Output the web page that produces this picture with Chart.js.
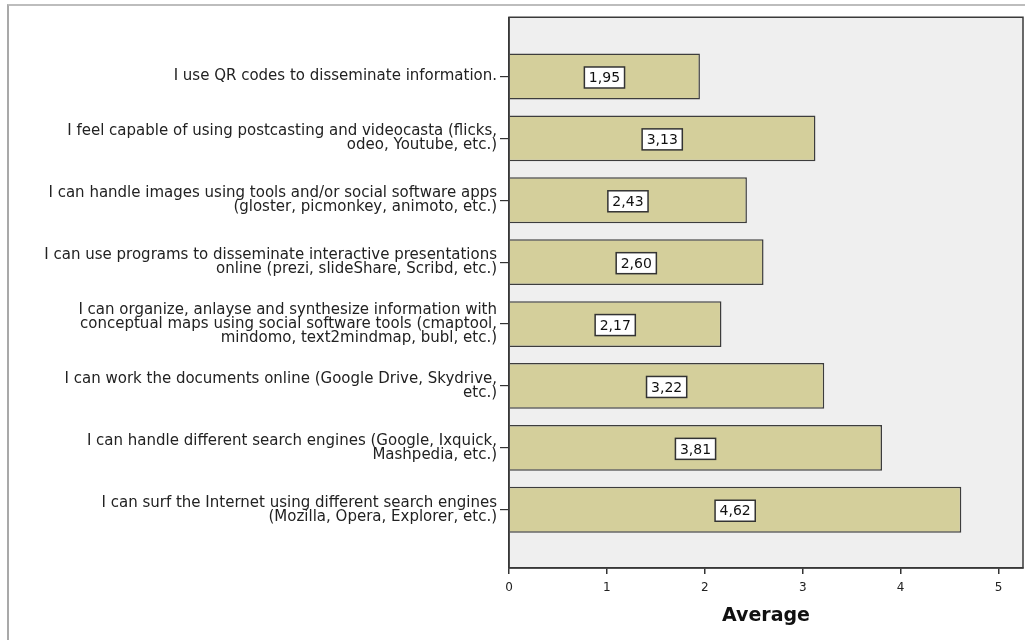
<!DOCTYPE html>
<html>
<head>
<meta charset="utf-8">
<script src="https://cdn.jsdelivr.net/npm/chart.js@4.4.1/dist/chart.umd.min.js"></script>
<style>
  html, body { margin: 0; padding: 0; background: #fff; }
  #wrap { position: relative; width: 1025px; height: 640px; overflow: hidden; }
  #frame { position: absolute; left: 7px; top: 4px; right: -10px; bottom: -10px;
           border-top: 2px solid #bdbdbd; border-left: 2px solid #a9a9a9; }
  #myChart { position: absolute; left: 0; top: 0; }
</style>
</head>
<body>
<div id="wrap">
  <div id="frame"></div>
  <canvas id="myChart" width="1025" height="640"></canvas>
</div>
<script>
// statements, top to bottom
var labels = [
    "I use QR codes to disseminate information.",
    ["I feel capable of using postcasting and videocasta (flicks,", "odeo, Youtube, etc.)"],
    ["I can handle images using tools and/or social software apps", "(gloster, picmonkey, animoto, etc.)"],
    ["I can use programs to disseminate interactive presentations", "online (prezi, slideShare, Scribd, etc.)"],
    ["I can organize, anlayse and synthesize information with", "conceptual maps using social software tools (cmaptool,", "mindomo, text2mindmap, bubl, etc.)"],
    ["I can work the documents online (Google Drive, Skydrive,", "etc.)"],
    ["I can handle different search engines (Google, Ixquick,", "Mashpedia, etc.)"],
    ["I can surf the Internet using different search engines", "(Mozilla, Opera, Explorer, etc.)"]
];
var averages = [1.95, 3.13, 2.43, 2.60, 2.17, 3.22, 3.81, 4.62];
var xTicks = [0, 1, 2, 3, 4, 5];

var font = "'DejaVu Sans', 'Liberation Sans', Arial, sans-serif";

var barData = averages.map(function (v, i) { return { x: v, y: i }; });

// grey plot background + frame
var plotFrame = {
    id: 'plotFrame',
    beforeDraw: function (chart) {
        var a = chart.chartArea, ctx = chart.ctx;
        ctx.save();
        ctx.fillStyle = '#efefef';
        ctx.fillRect(a.left, a.top, a.right - a.left, a.bottom - a.top);
        ctx.restore();
    },
    afterDraw: function (chart) {
        var a = chart.chartArea, ctx = chart.ctx;
        ctx.save();
        ctx.strokeStyle = '#3a3a3a';
        ctx.lineWidth = 1.5;
        ctx.strokeRect(a.left, a.top, a.right - a.left, a.bottom - a.top);
        ctx.restore();
    }
};

// value boxes in the middle of each bar
var valueBoxes = {
    id: 'valueBoxes',
    afterDatasetsDraw: function (chart) {
        var ctx = chart.ctx;
        var xs = chart.scales.x, ys = chart.scales.y;
        ctx.save();
        ctx.font = '14px ' + font;
        ctx.textAlign = 'center';
        ctx.textBaseline = 'middle';
        averages.forEach(function (v, i) {
            var txt = v.toFixed(2).replace('.', ',');
            var cx = xs.getPixelForValue(v / 2);
            var cy = ys.getPixelForValue(i) + 1;
            var w = ctx.measureText(txt).width + 9;
            var h = 21;
            ctx.fillStyle = '#ffffff';
            ctx.fillRect(cx - w / 2, cy - h / 2, w, h);
            ctx.strokeStyle = '#333333';
            ctx.lineWidth = 1.5;
            ctx.strokeRect(cx - w / 2, cy - h / 2, w, h);
            ctx.fillStyle = '#111111';
            ctx.fillText(txt, cx, cy + 1);
        });
        ctx.restore();
    }
};

var ctx1 = document.getElementById("myChart").getContext("2d");
var myChart = new Chart(ctx1, {
    type: 'bar',
    data: {
        datasets: [{
            label: 'Average',
            data: barData,
            backgroundColor: '#d4cf9b',
            borderColor: '#3d3d3d',
            borderWidth: 1.5,
            categoryPercentage: 1,
            barPercentage: 0.74
        }]
    },
    options: {
        indexAxis: 'y',
        responsive: false,
        animation: false,
        devicePixelRatio: 1,
        layout: { padding: { top: 15, right: 2, left: 0, bottom: 0 } },
        plugins: {
            legend: { display: false },
            tooltip: { enabled: false }
        },
        scales: {
            x: {
                type: 'linear',
                position: 'bottom',
                min: 0,
                max: 5.25,
                afterBuildTicks: function (s) {
                    s.ticks = xTicks.map(function (t) { return { value: t }; });
                },
                afterFit: function (s) { s.height = 72; },
                grid: { display: true, drawOnChartArea: false, drawTicks: true, tickLength: 6, color: '#333', lineWidth: 1.5 },
                border: { display: true, color: '#333', width: 1.5 },
                ticks: { color: '#222', padding: 7, font: { family: font, size: 12 } },
                title: {
                    display: true,
                    text: 'Average',
                    color: '#111',
                    font: { family: font, size: 19, weight: 'bold' },
                    padding: { top: 4, bottom: 13 }
                }
            },
            y: {
                type: 'linear',
                position: 'left',
                reverse: true,
                offset: false,
                min: -0.957,
                max: 7.941,
                afterBuildTicks: function (s) {
                    s.ticks = labels.map(function (l, i) { return { value: i }; });
                },
                afterFit: function (s) { s.width = 509; },
                grid: { display: true, offset: false, drawOnChartArea: false, drawTicks: true, tickLength: 9, color: '#333', lineWidth: 1.2 },
                border: { display: true, color: '#333', width: 1.5 },
                ticks: {
                    autoSkip: false,
                    color: '#222',
                    padding: 3,
                    font: { family: font, size: 15, lineHeight: 0.95 },
                    callback: function (value) { return labels[value]; }
                }
            }
        }
    },
    plugins: [plotFrame, valueBoxes]
});
</script>
</body>
</html>
